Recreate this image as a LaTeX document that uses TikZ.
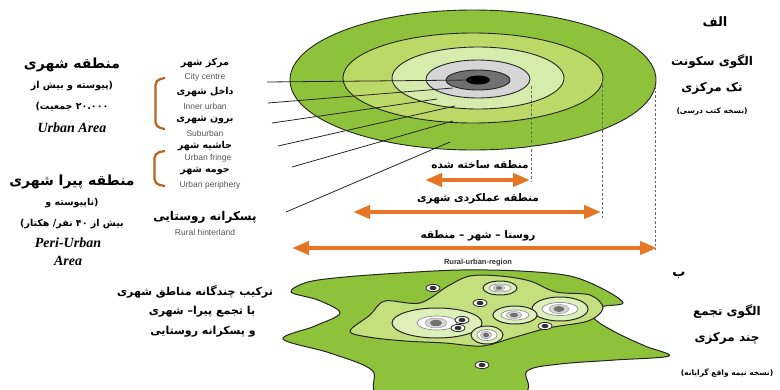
\documentclass[tikz,border=0pt]{standalone}
\usepackage{fontspec}
\setmainfont{Liberation Serif}
\newfontfamily\fafont[Script=Arabic]{DejaVu Sans}
\newfontfamily\ensans{Liberation Sans}
\TeXXeTstate=1
\usetikzlibrary{arrows.meta}
\newcommand\rtl[1]{\beginR #1\endR}
\definecolor{gA}{RGB}{141,194,58}
\definecolor{gB}{RGB}{186,217,102}
\definecolor{gC}{RGB}{214,236,172}
\definecolor{grL}{RGB}{214,214,214}
\definecolor{grD}{RGB}{112,112,112}
\definecolor{brk}{RGB}{184,98,30}
\definecolor{orA}{RGB}{230,118,38}
\definecolor{blobIn}{RGB}{196,223,125}
\definecolor{cityC}{RGB}{222,240,186}
\definecolor{engray}{RGB}{85,85,85}
\begin{document}
\begin{tikzpicture}[x=1pt,y=-1pt,
  fa/.style={font=\fafont\bfseries\fontsize{#1}{#1}\selectfont, inner sep=0pt},
  fa/.default=10,
  en/.style={font=\ensans\fontsize{8.5}{9}\selectfont, text=engray, inner sep=0pt},
  ttl/.style={font=\bfseries\itshape\fontsize{14}{14}\selectfont, inner sep=0pt},
  ring/.style={draw=black!85, line width=0.9pt},
  leader/.style={draw=black!85, line width=0.8pt},
  bracket/.style={draw=brk, line width=2.2pt, rounded corners=5pt},
  vdash/.style={draw=black!60, line width=0.8pt, dash pattern=on 2.5pt off 2pt},
  orarrow/.style={draw=orA, line width=4pt, {Triangle[length=17pt,width=13pt]}-{Triangle[length=17pt,width=13pt]}},
  blobline/.style={draw=black!85, line width=1pt},
  pics/city/.style args={#1/#2/#3/#4}{code={
    \fill[cityC, blobline] (0,0) ellipse [x radius=#1, y radius=#2];
    \fill[white, draw=black!45, line width=0.7pt] (0,0) ellipse [x radius=#3, y radius=#4];
    \fill[grL, draw=black!40, line width=0.5pt] (-1,0) ellipse [x radius=#3*0.55, y radius=#4*0.7];
    \fill[grD] (-1,0) ellipse [x radius=#3*0.3, y radius=#4*0.45];
  }},
  pics/dot/.style={code={
    \fill[white, draw=black!85, line width=0.8pt] (0,0) ellipse [x radius=7, y radius=3.6];
    \fill[black!80] (0,0) ellipse [x radius=3.5, y radius=2.2];
  }}
]
\useasboundingbox (0,0) rectangle (780,389);

% ---------- concentric model ----------
\fill[gA, ring] (473,80) ellipse [x radius=183, y radius=70];
\fill[gB, ring] (473,78) ellipse [x radius=130, y radius=45];
\fill[gC, ring] (478,78) ellipse [x radius=86, y radius=31];
\fill[grL, ring] (478,79) ellipse [x radius=52, y radius=19];
\fill[grD, ring] (478,80) ellipse [x radius=32, y radius=10];
\fill[black] (478,80) ellipse [x radius=12, y radius=4.5];

% leader lines
\coordinate (s1) at (267,82);  \coordinate (e1) at (472,80);
\coordinate (s2) at (268,103); \coordinate (e2) at (453,88);
\coordinate (s3) at (272,123); \coordinate (e3) at (437,99);
\coordinate (s4) at (278,146); \coordinate (e4) at (455,106);
\coordinate (s5) at (292,167); \coordinate (e5) at (453,121);
\coordinate (s6) at (286,212); \coordinate (e6) at (450,142);
\foreach \i in {1,...,6} \draw[leader] (s\i) -- (e\i);

% dashed verticals
\coordinate (d1a) at (531,86);  \coordinate (d1b) at (531,182);
\coordinate (d2a) at (602,76);  \coordinate (d2b) at (602,218);
\coordinate (d3a) at (655,86);  \coordinate (d3b) at (655,250);
\draw[vdash] (d1a) -- (d1b);
\draw[vdash] (d2a) -- (d2b);
\draw[vdash] (d3a) -- (d3b);

% orange arrows
\coordinate (a1l) at (425,180); \coordinate (a1r) at (530,180);
\coordinate (a2l) at (353,212); \coordinate (a2r) at (601,212);
\coordinate (a3l) at (292,248); \coordinate (a3r) at (657,248);
\draw[orarrow] (a1l) -- (a1r);
\draw[orarrow] (a2l) -- (a2r);
\draw[orarrow] (a3l) -- (a3r);
\node[fa=10.5] (t1) at (480,165) {\rtl{منطقه ساخته شده}};
\node[fa=10.5] (t2) at (478,199) {\rtl{منطقه عملکردی شهری}};
\node[fa=10.5] (t3) at (478,236) {\rtl{روستا – شهر – منطقه}};
\node[font=\ensans\bfseries\fontsize{7.5}{8}\selectfont, inner sep=0pt, text=black!80] (t4) at (478,263) {Rural-urban-region};

% zone labels column
\node[fa=9.5] (z1) at (205,63) {\rtl{مرکز شهر}};
\node[en] (z1e) at (205,77) {City centre};
\node[fa=9.5] (z2) at (205,92) {\rtl{داخل شهری}};
\node[en] (z2e) at (205,106) {Inner urban};
\node[fa=9.5] (z3) at (205,120) {\rtl{برون شهری}};
\node[en] (z3e) at (205,133) {Suburban};
\node[fa=9.5] (z4) at (205,146) {\rtl{حاشیه شهر}};
\node[en] (z4e) at (208,158) {Urban fringe};
\node[fa=9.5] (z5) at (205,171) {\rtl{حومه شهر}};
\node[en] (z5e) at (210,185) {Urban periphery};
\node[fa=12] (z6) at (205,217) {\rtl{پسکرانه روستایی}};
\node[en] (z6e) at (205,232) {Rural hinterland};

% brackets
\coordinate (b1a) at (165,78); \coordinate (b1b) at (155.5,80); \coordinate (b1c) at (155.5,127); \coordinate (b1d) at (165,129);
\draw[bracket] (b1a) -- (b1b) -- (b1c) -- (b1d);
\coordinate (b2a) at (165,151); \coordinate (b2b) at (154.5,153); \coordinate (b2c) at (154.5,184); \coordinate (b2d) at (165,186);
\draw[bracket] (b2a) -- (b2b) -- (b2c) -- (b2d);

% left titles
\node[fa=14] (u1) at (72,65) {\rtl{منطقه شهری}};
\node[fa=9.5] (u2) at (72,86) {\rtl{(پیوسته و بیش از}};
\node[fa=9.5] (u3) at (72,107) {\rtl{۲۰.۰۰۰ جمعیت)}};
\node[ttl] (u4) at (72,128) {Urban Area};
\node[fa=14] (p1) at (72,182) {\rtl{منطقه پیرا شهری}};
\node[fa=9.5] (p2) at (72,203) {\rtl{(ناپیوسته و}};
\node[fa=9.5] (p3) at (72,224) {\rtl{بیش از ۴۰ نفر/ هکتار)}};
\node[ttl] (p4) at (68,243) {Peri-Urban};
\node[ttl] (p5) at (68,261) {Area};

% right titles (top)
\node[fa=13] (r0) at (715,22) {\rtl{الف}};
\node[fa=12] (r1) at (712,62) {\rtl{الگوی سکونت}};
\node[fa=12] (r2) at (712,88) {\rtl{تک مرکزی}};
\node[fa=7.5] (r3) at (712,112) {\rtl{(نسخه کتب درسی)}};

% ---------- polycentric blob ----------
\begin{scope}
\clip (0,0) rectangle (780,389);
\fill[gA, blobline] plot[smooth cycle, tension=0.55] coordinates {
 (291,292) (308,282) (345,277) (400,273) (460,270) (520,271) (570,276) (603,289)
 (623,303) (601,307) (594,318) (615,332) (645,346) (669,356) (615,360) (560,364)
 (527,371) (518,395) (385,397) (372,370) (330,353) (283,339) (315,326) (340,313)
 (318,300)};
\fill[blobIn, blobline] plot[smooth cycle, tension=0.55] coordinates {
 (350,331) (370,315) (385,301) (420,303) (448,286) (470,276) (500,276) (530,281)
 (556,292) (590,295) (603,308) (588,321) (548,328) (512,338) (482,346) (445,343)
 (405,341) (368,337)};
\end{scope}
\pic at (437,323) {city=45/15/20/7};
\pic at (560,309) {city=28/12/18/6.5};
\pic at (515,315) {city=22/9/14/5};
\pic at (500,288) {city=17/7/11/4};
\pic at (487,335) {city=16/9/10/5.5};
\pic at (433,288) {dot};
\pic at (480,303) {dot};
\pic at (545,326) {dot};
\pic at (482,365) {dot};
\pic at (462,320) {dot};
\pic at (458,328) {dot};

% bottom texts
\node[fa=11] (m1) at (195,292) {\rtl{ترکیب چندگانه مناطق شهری}};
\node[fa=11] (m2) at (202,312) {\rtl{با تجمع پیرا– شهری}};
\node[fa=11] (m3) at (203,332) {\rtl{و پسکرانه روستایی}};
\node[fa=13] (q0) at (679,275) {\rtl{ب}};
\node[fa=12] (q1) at (727,312) {\rtl{الگوی تجمع}};
\node[fa=12] (q2) at (727,338) {\rtl{چند مرکزی}};
\node[fa=7.5] (q3) at (727,373) {\rtl{(نسخه نیمه واقع گرایانه)}};
\end{tikzpicture}
\end{document}
